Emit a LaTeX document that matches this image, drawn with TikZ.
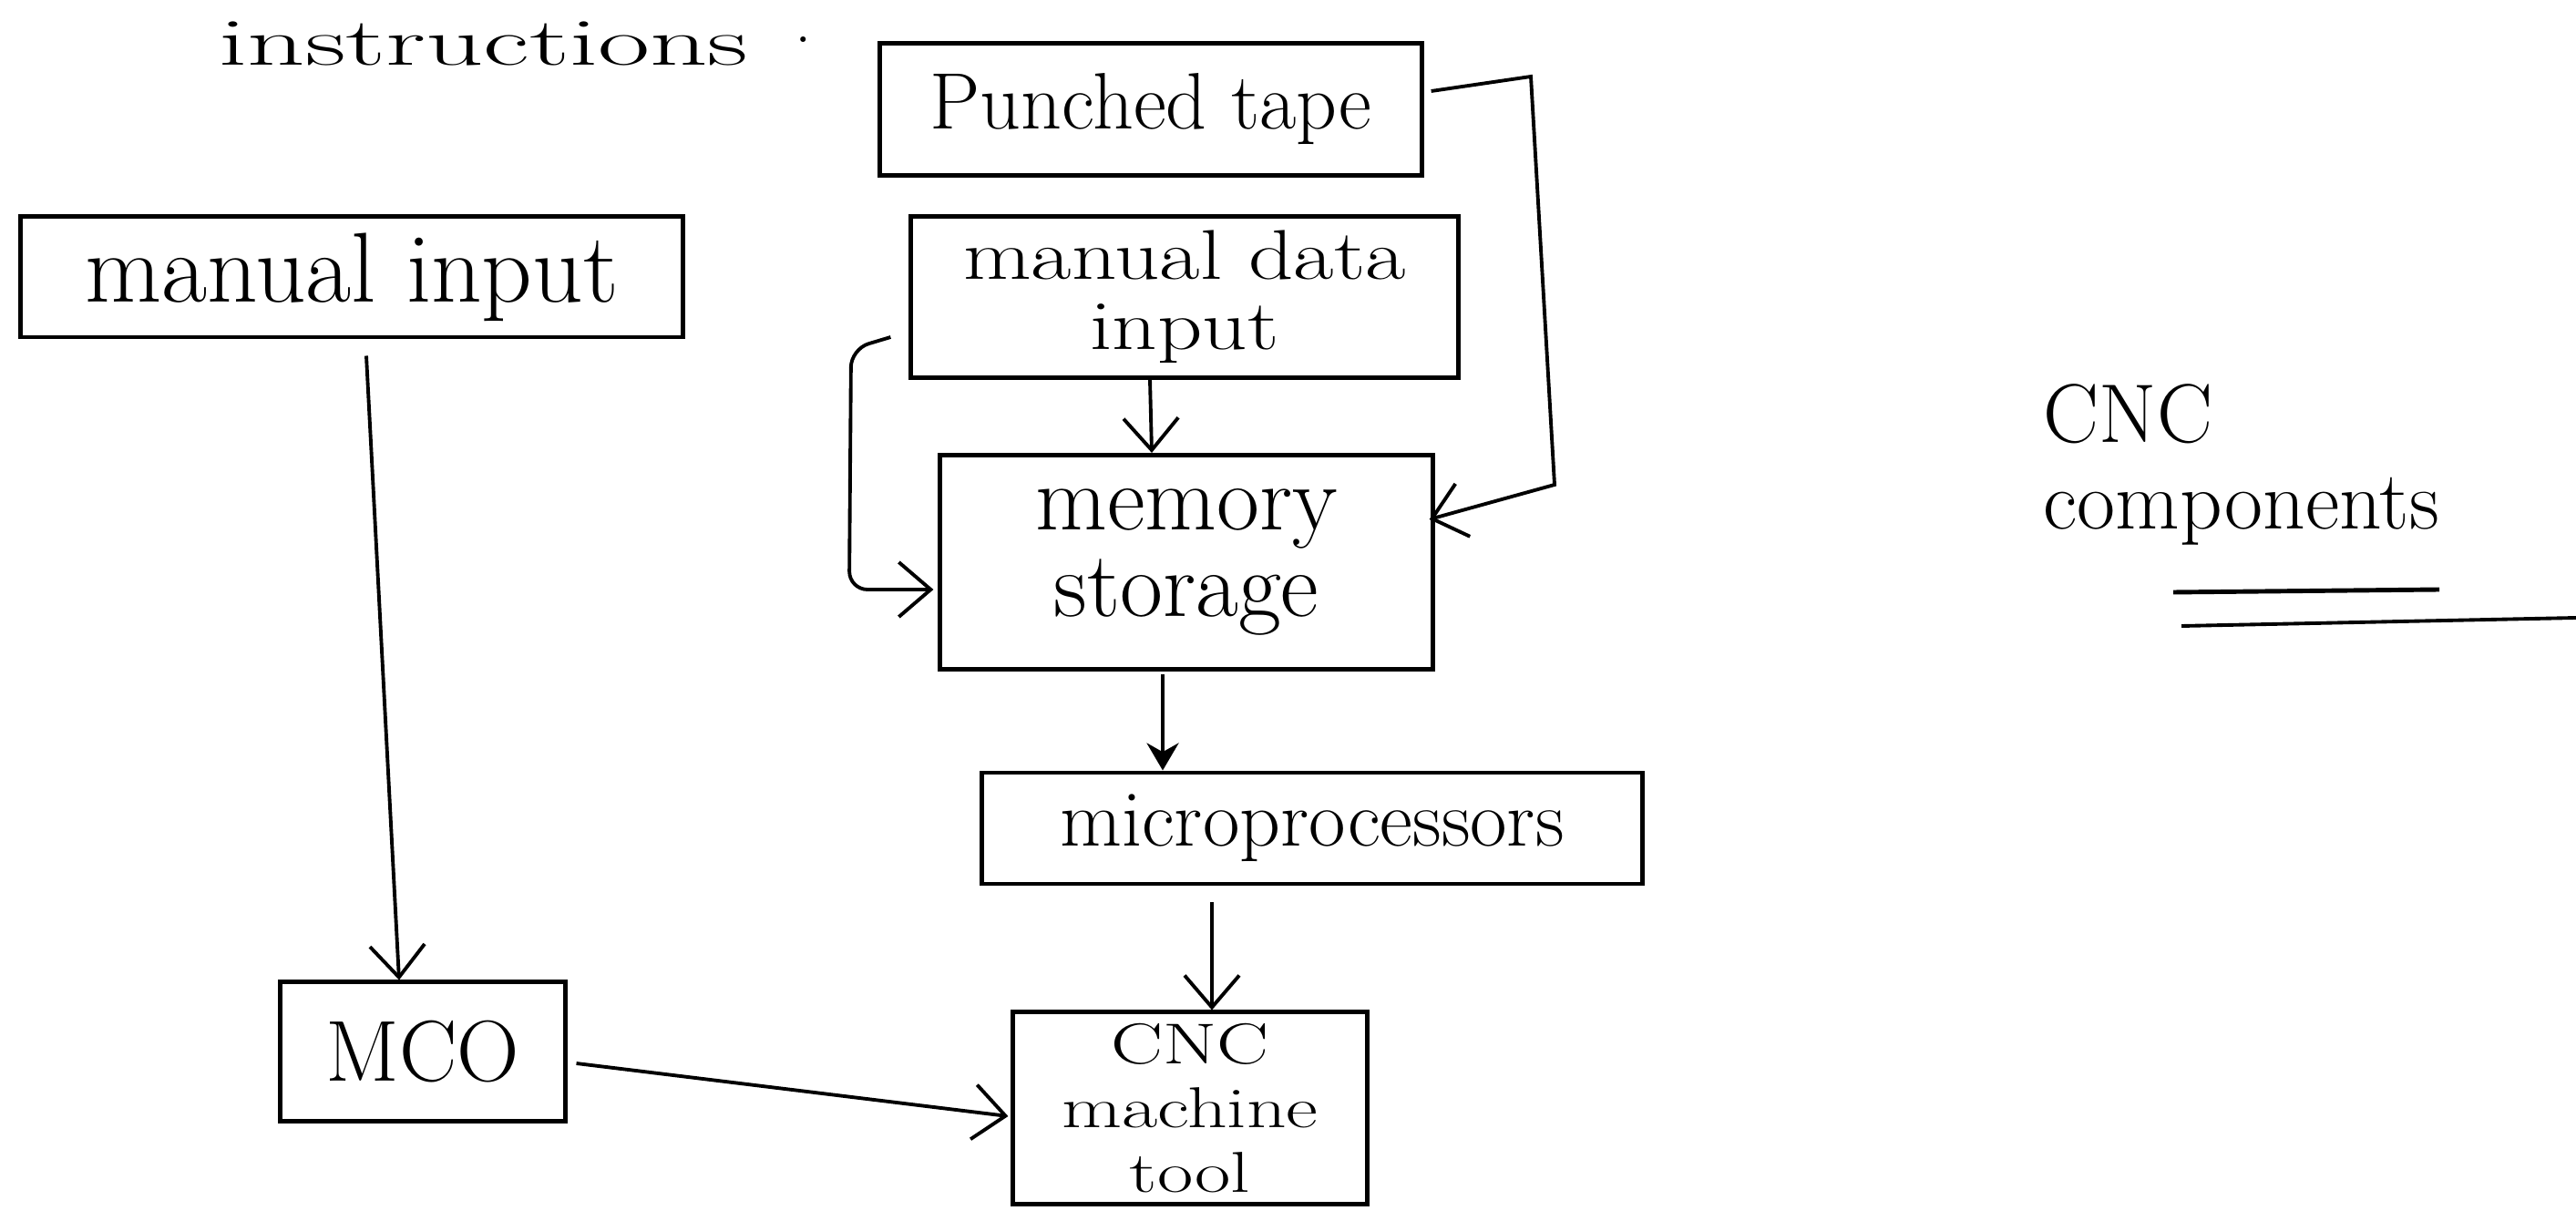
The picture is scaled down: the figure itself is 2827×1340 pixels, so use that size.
\documentclass[tikz,border=0pt]{standalone}
\usepackage{graphicx}
\usetikzlibrary{arrows.meta,calc}
\newcommand{\wide}[2]{\scalebox{#1}[1]{#2}}
\begin{document}
\begin{tikzpicture}[x=0.01cm,y=-0.01cm,
  box/.style={draw, line width=1.4pt, inner sep=0pt, align=center, text=black},
  arr/.style={line width=1.1pt, -{Straight Barb[length=3.5mm,width=6mm]}},
  dotarr/.style={line width=1.1pt, -{Stealth[length=3mm,width=3.5mm]}}]
\useasboundingbox (0,0) rectangle (2827,1340);
\fill[white] (0,0) rectangle (2827,1340);

% title
\node[font=\fontsize{21}{21}\selectfont, anchor=base, inner sep=0pt] (title) at (566,72)
  {\wide{1.68}{instructions}\hspace{0.7em}\raisebox{0.35em}{.}};

% boxes
\node[box, minimum width=7.26cm, minimum height=1.32cm, font=\fontsize{31}{31}\selectfont] (mi) at (386,304) {manual input};
\node[box, minimum width=5.94cm, minimum height=1.45cm, font=\fontsize{25}{25}\selectfont] (pt) at (1263,120) {Punched tape};
\node[box, minimum width=6.00cm, minimum height=1.76cm, font=\fontsize{22}{22}\selectfont] (mdi) at (1300,326) {\wide{1.25}{manual data}\\\wide{1.25}{input}};
\node[box, minimum width=5.40cm, minimum height=2.35cm, font=\fontsize{29}{27}\selectfont] (mem) at (1302,617) {memory\\storage};
\node[box, minimum width=7.25cm, minimum height=1.22cm, font=\fontsize{25}{25}\selectfont] (mic) at (1440,909) {microprocessors};
\node[box, minimum width=3.88cm, minimum height=2.10cm, font=\fontsize{18}{20}\selectfont] (cnc) at (1306,1216) {\wide{1.35}{CNC}\\\wide{1.35}{machine}\\\wide{1.35}{tool}};
\node[box, minimum width=3.12cm, minimum height=1.52cm, font=\fontsize{27}{27}\selectfont] (mco) at (464,1154) {MCO};

% side label
\node[font=\fontsize{26}{27}\selectfont, align=left, anchor=west, inner sep=0pt] (comp) at (2242,510) {CNC\\components};
\draw[line width=1.4pt] (2385,650) -- (2677,647);
\draw[line width=1.1pt] (2394,687) -- (2827,678);

% connectors
\coordinate (r1) at (1680,84);
\coordinate (r2) at (1706,532);
\draw[arr] ($(pt.east)+(8,-20)$) -- (r1) -- (r2) -- ($(mem.east)+(-6,-47)$);

\coordinate (l1) at (934,383);
\coordinate (l2) at (932,647);
\draw[arr, rounded corners=0.2cm] ($(mdi.west)+(-20,44)$) -- (l1) -- (l2) -- ($(mem.west)+(-5,30)$);

\draw[arr] ($(mdi.south)+(-38,0)$) -- ($(mem.north)+(-38,0)$);
\draw[dotarr] ($(mem.south)+(-26,3)$) -- ($(mic.north)+(-164,0)$);
\draw[arr] ($(mic.south)+(-110,18)$) -- ($(cnc.north)+(24,0)$);
\draw[arr] ($(mi.south)+(16,18)$) -- ($(mco.north)+(-26,0)$);
\draw[arr] ($(mco.east)+(10,13)$) -- ($(cnc.west)+(-3,9)$);
\end{tikzpicture}
\end{document}
